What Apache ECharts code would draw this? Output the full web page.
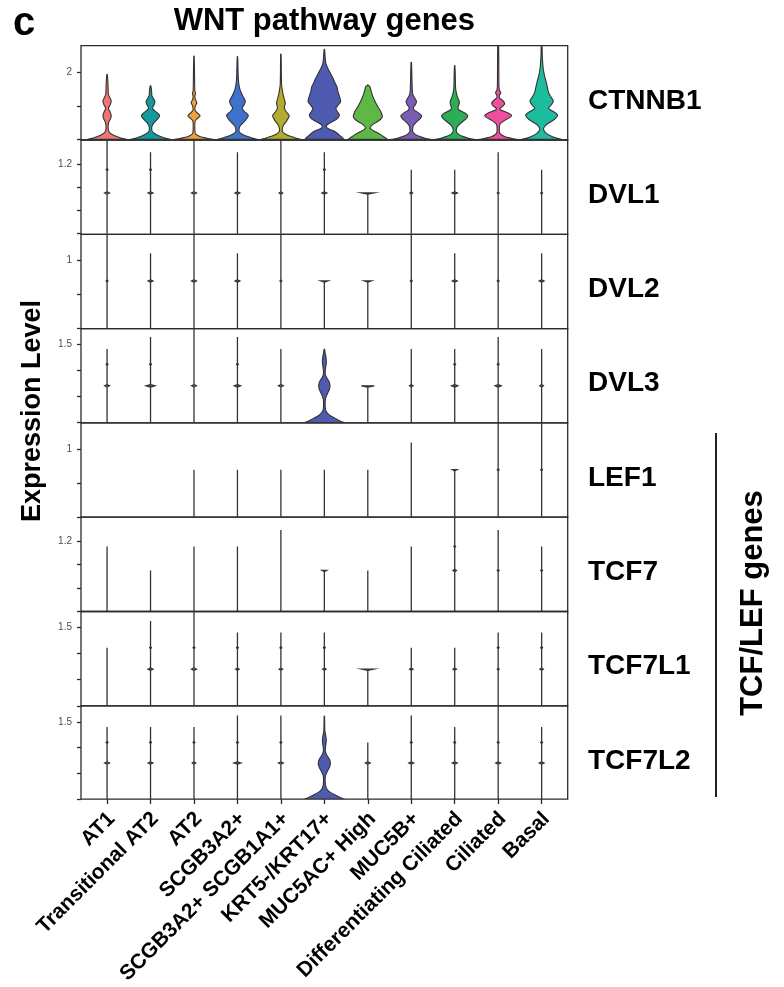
<!DOCTYPE html>
<html>
<head>
<meta charset="utf-8">
<script src="https://cdn.jsdelivr.net/npm/echarts@6/dist/echarts.min.js"></script>
<style>
  html, body { margin: 0; padding: 0; background: #fff; }
  #chart { width: 784px; height: 987px; }
</style>
</head>
<body>
<div id="chart"></div>
<script>
// ---- categories, genes, axis settings ----
const cellTypes = [
  'AT1', 'Transitional AT2', 'AT2', 'SCGB3A2+', 'SCGB3A2+ SCGB1A1+',
  'KRT5-/KRT17+', 'MUC5AC+ High', 'MUC5B+', 'Differentiating Ciliated',
  'Ciliated', 'Basal'
];
const cellColors = [
  '#F37474', '#139A9C', '#F2A23A', '#3F72CC', '#B3AC2D',
  '#4E5BB0', '#5FB846', '#7B5DB6', '#2BAE56', '#EE4E9D', '#1EBC9F'
];
const genes = ['CTNNB1', 'DVL1', 'DVL2', 'DVL3', 'LEF1', 'TCF7', 'TCF7L1', 'TCF7L2'];
const yMin = [-0.02, -0.01, -0.005, -0.006, 0, 0, 0, 0];
const yMax = [2.81, 1.61, 1.39, 1.79, 1.39, 1.61, 1.80, 1.81];
const yTicks = [
  [0, 1, 2], [0, 0.4, 0.8, 1.2], [0, 0.5, 1], [0, 0.5, 1, 1.5],
  [0, 0.5, 1], [0, 0.4, 0.8, 1.2], [0, 0.5, 1, 1.5], [0, 0.5, 1, 1.5]
];
const yTickLabels = [[2], [1.2], [1], [1.5], [1], [1.2], [1.5], [1.5]];

// ---- violin profiles ----
// Full violins: knots of [expression, half-width in category units].
// Thin violins: top expression plus small density bumps [expression, half-width].
const shape = knots => ({ knots });
const spine = (top, bumps) => ({ top, bumps: bumps || [] });

const CTNNB1 = [
  shape([[0,0.44],[0.05,0.30],[0.10,0.19],[0.16,0.10],[0.22,0.05],[0.28,0.03],[0.40,0.025],[0.52,0.04],[0.62,0.08],[0.71,0.095],[0.82,0.07],[0.93,0.03],[1.03,0.07],[1.15,0.095],[1.26,0.06],[1.36,0.03],[1.50,0.025],[1.70,0.02],[1.95,0.005]]),
  shape([[0,0.45],[0.05,0.31],[0.10,0.20],[0.16,0.11],[0.22,0.05],[0.28,0.03],[0.38,0.03],[0.50,0.08],[0.62,0.17],[0.71,0.21],[0.80,0.15],[0.90,0.06],[0.97,0.05],[1.06,0.09],[1.14,0.10],[1.24,0.06],[1.32,0.03],[1.45,0.025],[1.61,0.005]]),
  shape([[0,0.45],[0.04,0.28],[0.08,0.15],[0.13,0.07],[0.18,0.03],[0.30,0.02],[0.55,0.025],[0.63,0.08],[0.71,0.14],[0.79,0.08],[0.87,0.025],[1.00,0.03],[1.10,0.065],[1.20,0.03],[1.30,0.02],[1.38,0.035],[1.45,0.02],[1.70,0.015],[2.50,0.005]]),
  shape([[0,0.45],[0.05,0.32],[0.10,0.20],[0.16,0.10],[0.22,0.045],[0.28,0.035],[0.40,0.06],[0.55,0.17],[0.72,0.25],[0.85,0.15],[0.94,0.11],[1.05,0.16],[1.15,0.18],[1.28,0.13],[1.45,0.07],[1.60,0.04],[1.75,0.025],[2.00,0.015],[2.48,0.005]]),
  shape([[0,0.45],[0.05,0.32],[0.10,0.20],[0.16,0.10],[0.22,0.045],[0.28,0.03],[0.40,0.05],[0.55,0.13],[0.71,0.19],[0.85,0.11],[0.95,0.08],[1.08,0.10],[1.20,0.08],[1.35,0.05],[1.50,0.03],[1.65,0.015],[2.56,0.005]]),
  shape([[0,0.45],[0.07,0.40],[0.13,0.34],[0.23,0.25],[0.30,0.12],[0.36,0.05],[0.43,0.06],[0.52,0.17],[0.62,0.30],[0.73,0.345],[0.83,0.30],[0.93,0.265],[1.03,0.32],[1.13,0.375],[1.28,0.35],[1.45,0.31],[1.58,0.29],[1.68,0.25],[1.83,0.20],[1.98,0.14],[2.13,0.08],[2.28,0.035],[2.45,0.02],[2.70,0.005]]),
  shape([[0,0.45],[0.05,0.40],[0.10,0.34],[0.17,0.26],[0.23,0.17],[0.30,0.08],[0.36,0.055],[0.45,0.12],[0.53,0.22],[0.62,0.31],[0.70,0.335],[0.83,0.30],[0.98,0.23],[1.18,0.15],[1.35,0.10],[1.48,0.07],[1.58,0.05],[1.63,0.0]]),
  shape([[0,0.45],[0.04,0.30],[0.09,0.18],[0.15,0.09],[0.21,0.04],[0.28,0.03],[0.40,0.045],[0.52,0.12],[0.63,0.21],[0.71,0.24],[0.80,0.16],[0.88,0.07],[0.95,0.05],[1.05,0.10],[1.14,0.12],[1.24,0.08],[1.33,0.04],[1.45,0.025],[1.70,0.018],[2.31,0.005]]),
  shape([[0,0.45],[0.04,0.30],[0.09,0.18],[0.15,0.09],[0.21,0.045],[0.28,0.035],[0.40,0.07],[0.52,0.17],[0.63,0.27],[0.71,0.30],[0.80,0.22],[0.88,0.10],[0.95,0.075],[1.05,0.10],[1.13,0.105],[1.25,0.07],[1.38,0.04],[1.55,0.02],[1.80,0.015],[2.21,0.005]]),
  shape([[0,0.43],[0.04,0.28],[0.08,0.16],[0.13,0.08],[0.19,0.035],[0.30,0.025],[0.45,0.04],[0.56,0.14],[0.66,0.27],[0.72,0.31],[0.80,0.22],[0.88,0.06],[0.93,0.045],[1.00,0.11],[1.08,0.15],[1.17,0.10],[1.25,0.03],[1.32,0.03],[1.40,0.06],[1.47,0.03],[1.60,0.018],[2.81,0.01]]),
  shape([[0,0.45],[0.05,0.32],[0.11,0.20],[0.18,0.11],[0.25,0.06],[0.33,0.045],[0.42,0.09],[0.52,0.20],[0.63,0.32],[0.74,0.365],[0.85,0.25],[0.93,0.16],[1.03,0.22],[1.15,0.27],[1.26,0.22],[1.40,0.16],[1.58,0.13],[1.75,0.10],[1.89,0.07],[2.05,0.045],[2.20,0.03],[2.50,0.015],[2.81,0.008]])
];

const DVL1 = [
  spine(1.61, [[1.10, 0.02], [0.70, 0.055]]),
  spine(1.40, [[1.10, 0.02], [0.70, 0.055]]),
  spine(1.61, [[0.70, 0.055]]),
  spine(1.40, [[0.70, 0.055]]),
  spine(1.61, [[0.70, 0.04]]),
  spine(1.40, [[1.10, 0.02], [0.70, 0.055]]),
  spine(0.70, [[0.70, 0.135]]),
  spine(1.10, [[0.70, 0.03]]),
  spine(1.10, [[0.70, 0.06]]),
  spine(1.40, [[0.70, 0.02]]),
  spine(1.10, [[0.70, 0.02]])
];

const DVL2 = [
  spine(1.39, [[0.70, 0.02]]),
  spine(1.11, [[0.70, 0.055]]),
  spine(1.39, [[0.70, 0.055]]),
  spine(1.11, [[0.70, 0.055]]),
  spine(1.39, [[0.70, 0.02]]),
  spine(0.70, [[0.70, 0.077]]),
  spine(0.70, [[0.70, 0.077]]),
  spine(1.39, [[0.70, 0.02]]),
  spine(1.11, [[0.70, 0.055]]),
  spine(1.39, [[0.70, 0.02]]),
  spine(1.11, [[0.70, 0.055]])
];

const DVL3 = [
  spine(1.40, [[1.11, 0.02], [0.70, 0.055]]),
  spine(1.63, [[1.11, 0.02], [0.70, 0.10]]),
  spine(1.79, [[0.70, 0.055]]),
  spine(1.63, [[1.11, 0.02], [0.70, 0.07]]),
  spine(1.40, [[0.70, 0.055]]),
  shape([[0,0.45],[0.03,0.36],[0.08,0.25],[0.13,0.14],[0.18,0.07],[0.22,0.035],[0.30,0.02],[0.45,0.025],[0.55,0.07],[0.63,0.115],[0.70,0.13],[0.78,0.11],[0.86,0.05],[0.93,0.02],[1.02,0.025],[1.14,0.045],[1.26,0.035],[1.34,0.015],[1.40,0.005]]),
  spine(0.70, [[0.70, 0.15]]),
  spine(1.40, [[0.70, 0.04]]),
  spine(1.40, [[1.11, 0.02], [0.70, 0.07]]),
  spine(1.63, [[1.11, 0.02], [0.70, 0.07]]),
  spine(1.40, [[0.70, 0.04]])
];

const LEF1 = [
  null,
  null,
  spine(0.70),
  spine(0.70),
  spine(0.70),
  spine(0.70),
  spine(0.70),
  spine(1.10),
  spine(0.70, [[0.70, 0.05]]),
  spine(1.39, [[0.70, 0.02]]),
  spine(1.39, [[0.70, 0.02]])
];

const TCF7 = [
  spine(1.11),
  spine(0.70),
  spine(1.11),
  spine(1.11),
  spine(1.39),
  spine(0.70, [[0.70, 0.05]]),
  spine(0.70),
  spine(1.11),
  spine(1.61, [[1.11, 0.02], [0.70, 0.04]]),
  spine(1.39, [[0.70, 0.02]]),
  spine(1.11, [[0.70, 0.02]])
];

const TCF7L1 = [
  spine(1.11),
  spine(1.62, [[1.11, 0.02], [0.70, 0.055]]),
  spine(1.80, [[1.11, 0.02], [0.70, 0.055]]),
  spine(1.40, [[1.11, 0.02], [0.70, 0.04]]),
  spine(1.40, [[1.11, 0.02], [0.70, 0.04]]),
  spine(1.40, [[1.11, 0.02], [0.70, 0.04]]),
  spine(0.70, [[0.70, 0.13]]),
  spine(1.11, [[0.70, 0.04]]),
  spine(1.11, [[0.70, 0.04]]),
  spine(1.40, [[1.11, 0.02], [0.70, 0.02]]),
  spine(1.40, [[1.11, 0.02], [0.70, 0.04]])
];

const TCF7L2 = [
  spine(1.40, [[1.10, 0.02], [0.70, 0.055]]),
  spine(1.40, [[1.10, 0.02], [0.70, 0.055]]),
  spine(1.40, [[1.10, 0.02], [0.70, 0.04]]),
  spine(1.62, [[1.10, 0.02], [0.70, 0.08]]),
  spine(1.62, [[1.10, 0.02], [0.70, 0.055]]),
  shape([[0,0.45],[0.03,0.36],[0.08,0.25],[0.13,0.14],[0.18,0.07],[0.24,0.035],[0.32,0.02],[0.45,0.025],[0.54,0.07],[0.62,0.12],[0.69,0.14],[0.77,0.12],[0.86,0.05],[0.94,0.02],[1.03,0.03],[1.14,0.045],[1.24,0.03],[1.32,0.012],[1.45,0.008],[1.61,0.004]]),
  spine(1.10, [[0.70, 0.055]]),
  spine(1.62, [[1.10, 0.02], [0.70, 0.055]]),
  spine(1.40, [[1.10, 0.02], [0.70, 0.055]]),
  spine(1.81, [[1.10, 0.02], [0.70, 0.055]]),
  spine(1.40, [[1.10, 0.02], [0.70, 0.055]])
];

const violins = [CTNNB1, DVL1, DVL2, DVL3, LEF1, TCF7, TCF7L1, TCF7L2];

// ---- layout ----
const FONT = '"Liberation Sans", Arial, Helvetica, sans-serif';
const PLOT_LEFT = 81;
const PLOT_WIDTH = 486.7;
const PLOT_TOP = 45.7;
const PANEL_H = 94.3;
const FRAME = '#2b2b2b';

function violinRenderer(g) {
  return function (params, api) {
    const k = params.dataIndex;
    const v = violins[g][k];
    if (!v) return null;
    const cx = api.coord([k, 0])[0];
    const unit = api.size([1, 0])[0];
    const py = val => api.coord([k, val])[1];
    let points;
    let smooth = 0;
    if (v.knots) {
      const left = v.knots.map(([y, w]) => [cx - w * unit, py(y)]);
      const right = v.knots.slice().reverse().map(([y, w]) => [cx + w * unit, py(y)]);
      // repeated base corners keep the bottom edge straight under smoothing
      points = [left[0]].concat(left, right, [right[right.length - 1]]);
      smooth = 0.3;
    } else {
      const h = 1.2;
      const y0 = py(0);
      const yt = py(v.top);
      const bumps = v.bumps.slice().sort((a, b) => a[0] - b[0]);
      const left = [[cx, y0]];
      bumps.forEach(([b, w]) => {
        const yb = py(b);
        left.push([cx, Math.min(y0, yb + h)], [cx - w * unit, yb], [cx, Math.max(yt, yb - h)]);
      });
      left.push([cx, yt]);
      const right = [];
      bumps.slice().reverse().forEach(([b, w]) => {
        const yb = py(b);
        right.push([cx, Math.max(yt, yb - h)], [cx + w * unit, yb], [cx, Math.min(y0, yb + h)]);
      });
      points = left.concat(right);
    }
    return {
      type: 'polygon',
      shape: { points, smooth },
      style: { fill: cellColors[k], stroke: '#333', lineWidth: v.knots ? 1.1 : 1.3 }
    };
  };
}

const catIdx = cellTypes.map((_, k) => k);
const grids = [], xAxes = [], yAxes = [], series = [];

genes.forEach((gene, i) => {
  grids.push({
    left: PLOT_LEFT, top: PLOT_TOP + i * PANEL_H, width: PLOT_WIDTH, height: PANEL_H,
    show: true, borderColor: FRAME, borderWidth: 1.3, backgroundColor: 'transparent'
  });
  const isBottom = i === genes.length - 1;
  xAxes.push({
    type: 'value', gridIndex: i, min: -0.6, max: 10.6,
    show: isBottom,
    axisLine: { show: false, onZero: false },
    splitLine: { show: false },
    axisTick: { show: true, customValues: catIdx, length: 5, lineStyle: { color: FRAME, width: 1.3 } },
    axisLabel: {
      show: true, customValues: catIdx,
      formatter: v => cellTypes[Math.round(v)],
      rotate: 45, align: 'right', verticalAlign: 'top', margin: 12, lineHeight: 13,
      fontFamily: FONT, fontWeight: 'bold', fontSize: 21, color: '#000'
    }
  });
  yAxes.push({
    type: 'value', gridIndex: i, min: yMin[i], max: yMax[i],
    axisLine: { show: false, onZero: false },
    splitLine: { show: false },
    axisTick: { show: true, customValues: yTicks[i], length: 4, lineStyle: { color: FRAME, width: 1.3 } },
    axisLabel: {
      show: true, customValues: yTickLabels[i], margin: 9,
      formatter: v => String(v),
      fontFamily: FONT, fontSize: 10, color: '#4d4d4d'
    }
  });
  series.push({
    type: 'custom', name: gene, xAxisIndex: i, yAxisIndex: i, clip: true,
    renderItem: violinRenderer(i),
    data: catIdx.map(k => [k, yMax[i]])
  });
});

const graphics = [
  { type: 'text', x: 13, y: 24, style: { text: 'c', font: 'bold 40px ' + FONT, fill: '#000', align: 'left', verticalAlign: 'middle' } },
  { type: 'text', x: PLOT_LEFT + PLOT_WIDTH / 2, y: 21, style: { text: 'WNT pathway genes', font: 'bold 31px ' + FONT, fill: '#000', align: 'center', verticalAlign: 'middle' } },
  { type: 'text', x: 33, y: 411, rotation: Math.PI / 2, style: { text: 'Expression Level', font: 'bold 27px ' + FONT, fill: '#000', align: 'center', verticalAlign: 'middle' } },
  { type: 'text', x: 753, y: 603, rotation: Math.PI / 2, style: { text: 'TCF/LEF genes', font: 'bold 31px ' + FONT, fill: '#000', align: 'center', verticalAlign: 'middle' } },
  { type: 'line', shape: { x1: 716, y1: 433, x2: 716, y2: 797 }, style: { stroke: '#222', lineWidth: 2 } }
];
genes.forEach((gene, i) => {
  graphics.push({
    type: 'text', x: 588, y: PLOT_TOP + i * PANEL_H + PANEL_H / 2 + 8,
    style: { text: gene, font: 'bold 28px ' + FONT, fill: '#000', align: 'left', verticalAlign: 'middle' }
  });
});

const chart = echarts.init(document.getElementById('chart'), null, { renderer: 'canvas' });
chart.setOption({
  animation: false,
  backgroundColor: '#fff',
  grid: grids,
  xAxis: xAxes,
  yAxis: yAxes,
  series: series,
  graphic: graphics
});
</script>
</body>
</html>
